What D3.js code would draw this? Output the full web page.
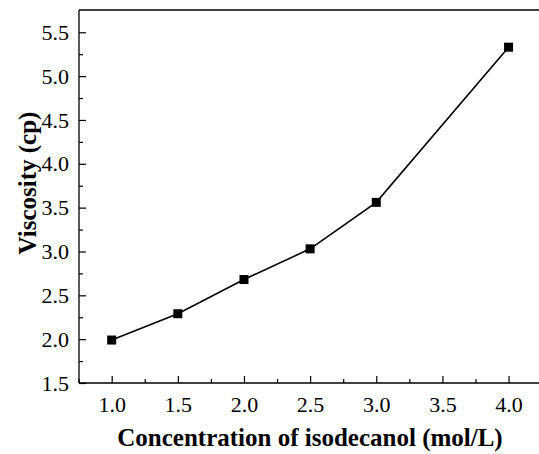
<!DOCTYPE html>
<html>
<head>
<meta charset="utf-8">
<script src="https://cdn.jsdelivr.net/npm/d3@7"></script>
<style>
  body { margin: 0; background: #fff; }
  svg text { font-family: "Liberation Serif", "Times New Roman", serif; }
</style>
</head>
<body>
<div id="chart"></div>
<script>
// data
const concentration = [1.0, 1.5, 2.0, 2.5, 3.0, 4.0];
const viscosity = [1.99, 2.29, 2.68, 3.03, 3.56, 5.33];
const xTicks = [1.0, 1.5, 2.0, 2.5, 3.0, 3.5, 4.0];
const yTicks = [1.5, 2.0, 2.5, 3.0, 3.5, 4.0, 4.5, 5.0, 5.5];
const xMinor = [0.75, 1.25, 1.75, 2.25, 2.75, 3.25, 3.75];
const yMinor = [1.75, 2.25, 2.75, 3.25, 3.75, 4.25, 4.75, 5.25, 5.75];

const width = 539, height = 454;
const plotLeft = 79, plotTop = 10, plotRight = 539, plotBottom = 383;
const serif = "'Liberation Serif', 'Times New Roman', serif";

const svg = d3.select("#chart").append("svg")
  .attr("width", width)
  .attr("height", height);

const x = d3.scaleLinear().domain([0.753, 4.23]).range([plotLeft, plotRight]);
const y = d3.scaleLinear().domain([1.5, 5.754]).range([plotBottom, plotTop]);

// frame (left, bottom, top)
const frame = svg.append("g").attr("stroke", "#000").attr("stroke-width", 1.3);
frame.append("line").attr("x1", plotLeft).attr("x2", plotLeft).attr("y1", plotTop).attr("y2", plotBottom);
frame.append("line").attr("x1", plotLeft).attr("x2", plotRight).attr("y1", plotBottom).attr("y2", plotBottom);
frame.append("line").attr("x1", plotLeft).attr("x2", plotRight).attr("y1", plotTop).attr("y2", plotTop);

// x axis
const xAxis = svg.append("g")
  .attr("transform", `translate(0,${plotBottom})`)
  .call(d3.axisBottom(x).tickValues(xTicks).tickSizeInner(-7).tickSizeOuter(0)
    .tickPadding(13).tickFormat(d3.format(".1f")));
xAxis.attr("font-family", serif);
xAxis.select(".domain").remove();
xAxis.selectAll("line").attr("stroke-width", 1.2);
xAxis.selectAll("text").attr("font-size", 22).attr("fill", "#000");

svg.append("g")
  .attr("transform", `translate(0,${plotBottom})`)
  .call(d3.axisBottom(x).tickValues(xMinor).tickSizeInner(-4).tickSizeOuter(0).tickFormat(""))
  .call(g => g.select(".domain").remove())
  .selectAll("line").attr("stroke-width", 1.2);

// y axis
const yAxis = svg.append("g")
  .attr("transform", `translate(${plotLeft},0)`)
  .call(d3.axisLeft(y).tickValues(yTicks).tickSizeInner(-7).tickSizeOuter(0)
    .tickPadding(10).tickFormat(d3.format(".1f")));
yAxis.attr("font-family", serif);
yAxis.select(".domain").remove();
yAxis.selectAll("line").attr("stroke-width", 1.2);
yAxis.selectAll("text").attr("font-size", 22).attr("fill", "#000");

svg.append("g")
  .attr("transform", `translate(${plotLeft},0)`)
  .call(d3.axisLeft(y).tickValues(yMinor.filter(v => y(v) > plotTop + 2)).tickSizeInner(-4).tickSizeOuter(0).tickFormat(""))
  .call(g => g.select(".domain").remove())
  .selectAll("line").attr("stroke-width", 1.2);

// line + markers
const points = concentration.map((c, i) => [c, viscosity[i]]);
svg.append("path")
  .datum(points)
  .attr("fill", "none")
  .attr("stroke", "#000")
  .attr("stroke-width", 1.6)
  .attr("d", d3.line().x(d => x(d[0])).y(d => y(d[1])));

const s = 9;
svg.append("g").selectAll("rect")
  .data(points)
  .join("rect")
  .attr("x", d => x(d[0]) - s / 2)
  .attr("y", d => y(d[1]) - s / 2)
  .attr("width", s)
  .attr("height", s)
  .attr("fill", "#000");

// axis titles
svg.append("text")
  .attr("x", 310)
  .attr("y", 446)
  .attr("text-anchor", "middle")
  .attr("font-size", 25)
  .attr("font-weight", "bold")
  .text("Concentration of isodecanol (mol/L)");

svg.append("text")
  .attr("transform", "translate(36,183) rotate(-90)")
  .attr("text-anchor", "middle")
  .attr("font-size", 25)
  .attr("font-weight", "bold")
  .text("Viscosity (cp)");
</script>
</body>
</html>
